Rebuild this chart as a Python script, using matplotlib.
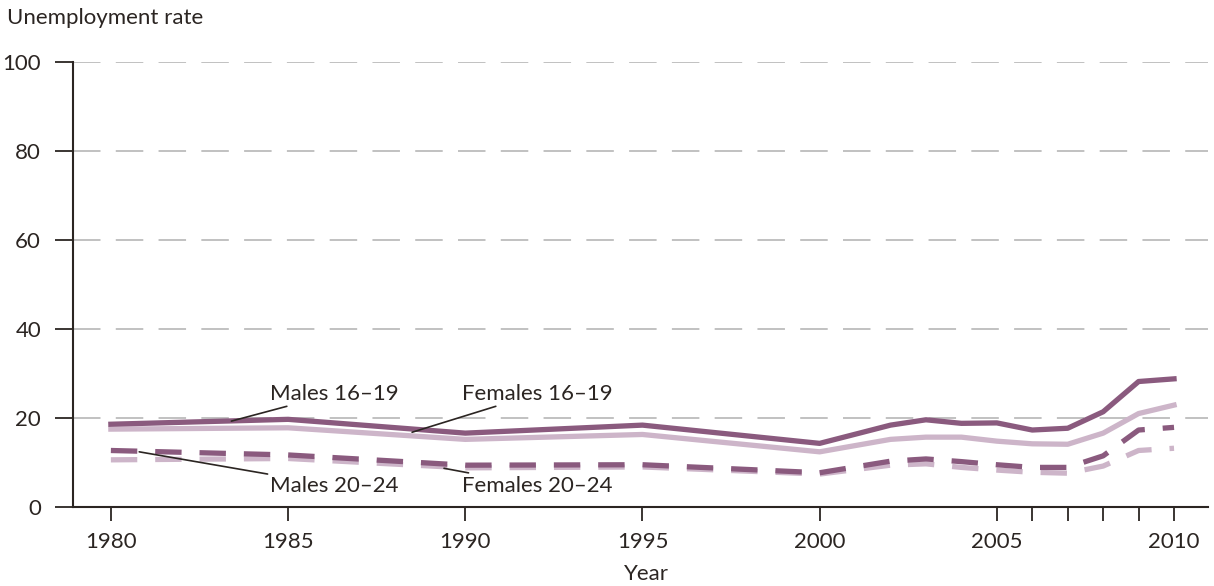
import matplotlib.pyplot as plt

years = [1980, 1985, 1990, 1995, 2000, 2002, 2003, 2004, 2005, 2006, 2007, 2008, 2009, 2010]
males_16_19 = [18.6, 19.7, 16.6, 18.4, 14.3, 18.4, 19.6, 18.8, 18.9, 17.3, 17.7, 21.4, 28.2, 28.8]
females_16_19 = [17.5, 17.8, 15.2, 16.3, 12.4, 15.2, 15.7, 15.7, 14.8, 14.2, 14.1, 16.6, 21.0, 22.9]
males_20_24 = [12.7, 11.7, 9.4, 9.5, 7.7, 10.3, 10.8, 10.2, 9.5, 8.9, 8.9, 11.5, 17.3, 17.9]
females_20_24 = [10.6, 10.9, 8.8, 9.0, 7.4, 9.4, 9.7, 8.9, 8.3, 7.8, 7.6, 9.2, 12.7, 13.2]

labeled_years = [1980, 1985, 1990, 1995, 2000, 2005, 2010]
extra_ticks = [2006, 2007, 2008, 2009]
y_ticks = [0, 20, 40, 60, 80, 100]

DARK = "#8a5a7e"
LIGHT = "#cdb5c9"
INK = "#2b2522"
FS = 16

plt.rcParams["font.family"] = ["Lato", "DejaVu Sans"]

fig = plt.figure(figsize=(12.14, 5.86), dpi=100)
ax = fig.add_axes([0.0601, 0.1348, 0.935, 0.7594])

ax.plot(years, females_20_24, color=LIGHT, lw=3.8, dashes=(5, 3.4))
ax.plot(years, males_20_24, color=DARK, lw=3.8, dashes=(5, 3.4))
ax.plot(years, females_16_19, color=LIGHT, lw=3.8)
ax.plot(years, males_16_19, color=DARK, lw=3.8)

ax.set_xlim(1978.93, 2010.96)
ax.set_ylim(0, 100)

for y in y_ticks[1:]:
    ax.axhline(y, color="#b0b0b0", lw=1.1, dashes=(18, 10), zorder=0)

ax.set_yticks(y_ticks)
ax.set_xticks(labeled_years + extra_ticks)
ax.set_xticklabels([str(y) if y in labeled_years else "" for y in labeled_years + extra_ticks])
ax.tick_params(axis="y", length=13, width=1.3, color=INK, labelsize=FS, pad=10, labelcolor=INK)
ax.tick_params(axis="x", length=10, width=1.3, color=INK, labelsize=FS, pad=8, labelcolor=INK)

for side in ["top", "right"]:
    ax.spines[side].set_visible(False)
for side in ["left", "bottom"]:
    ax.spines[side].set_color(INK)
    ax.spines[side].set_linewidth(1.5)

ax.set_xlabel("Year", fontsize=FS, color=INK)
ax.xaxis.set_label_coords(0.505, -0.127)
fig.text(0.006, 0.97, "Unemployment rate", fontsize=FS, color=INK, va="center", ha="left")

# series labels with leader lines
arrow = dict(arrowstyle="-", color=INK, lw=1.2, shrinkA=0, shrinkB=0)
ax.annotate("Males 16\u201319", xy=(1983.4, 19.3), xytext=(1984.5, 25.5),
            fontsize=FS, color=INK, va="center", arrowprops=arrow)
ax.annotate("Females 16\u201319", xy=(1988.5, 16.8), xytext=(1989.9, 25.5),
            fontsize=FS, color=INK, va="center", arrowprops=arrow)
ax.annotate("Males 20\u201324", xy=(1980.8, 12.4), xytext=(1984.5, 4.8),
            fontsize=FS, color=INK, va="center", arrowprops=arrow)
ax.annotate("Females 20\u201324", xy=(1989.4, 8.7), xytext=(1989.9, 4.8),
            fontsize=FS, color=INK, va="center", arrowprops=arrow)

fig.savefig("out.png", dpi=100)
